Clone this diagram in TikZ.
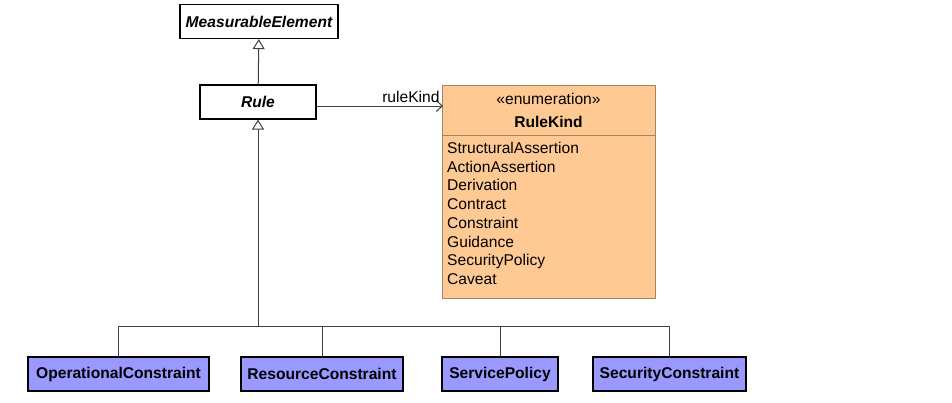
\documentclass[tikz,border=0pt]{standalone}
\usepackage{fontspec}
\setmainfont{Liberation Sans}
\usetikzlibrary{arrows.meta,positioning}

\definecolor{leafblue}{HTML}{9999FF}
\definecolor{enumfill}{HTML}{FFC994}
\definecolor{enumedge}{HTML}{A08666}
\definecolor{linegray}{HTML}{404040}

\begin{document}
\begin{tikzpicture}[
    x=1pt, y=-1pt,
    % Text size of the whole diagram
    font=\fontsize{15.6}{18.7}\selectfont,
    % Abstract classes (bold italic, white)
    classbox/.style={draw=black, line width=1.2pt, fill=white, minimum height=34pt,
        inner sep=0pt, font=\fontsize{15.6}{18.7}\selectfont\bfseries\itshape},
    % Concrete subclasses (blue)
    leafbox/.style={draw=black, line width=1.2pt, fill=leafblue, minimum height=34pt,
        inner sep=0pt, font=\fontsize{15.6}{18.7}\selectfont\bfseries},
    enumbox/.style={draw=enumedge, line width=1.2pt, fill=enumfill, inner sep=0pt},
    gen/.style={draw=linegray, line width=1pt, -{Triangle[length=10pt,width=12pt,fill=white]}},
    assoc/.style={draw=linegray, line width=1pt, -{Straight Barb[length=6pt,width=11pt]}},
    plain/.style={draw=linegray, line width=1pt}
]

% Canvas
\useasboundingbox (0,0) rectangle (952,402);

% Top of the hierarchy
\node[classbox, minimum width=158pt] (measurable) at (259,21.5) {MeasurableElement};
\node[classbox, minimum width=116pt] (rule) at (258,102) {Rule};
\draw[gen] (rule) -- (measurable);

% Enumeration
\node[enumbox, minimum width=213pt, minimum height=213pt, anchor=north west] (enum) at (442,85) {};
\node[anchor=base, inner sep=0pt] (stereo) at (548.5,104.5) {«enumeration»};
\node[anchor=base, inner sep=0pt, font=\fontsize{15.6}{18.7}\selectfont\bfseries] (kindname) at (548.5,127.5) {RuleKind};
\draw[draw=enumedge, line width=1pt] (enum.west |- 0,135) -- (enum.east |- 0,135);
\foreach \lit [count=\i from 0] in {StructuralAssertion, ActionAssertion, Derivation,
    Contract, Constraint, Guidance, SecurityPolicy, Caveat} {
    \node[anchor=base west, inner sep=0pt] (lit\i) at (447,153.5+18.7*\i) {\lit};
}

% Association Rule -> RuleKind
\coordinate (rkend) at (443,106);
\draw[assoc] (rule.east |- rkend) -- (rkend)
    node[above left, inner sep=3pt] (rklabel) {ruleKind};

% Subclasses
\node[leafbox, minimum width=181pt] (operational) at (118.5,374) {OperationalConstraint};
\node[leafbox, minimum width=162pt] (resource) at (322,374) {ResourceConstraint};
\node[leafbox, minimum width=116pt] (service) at (500,374) {ServicePolicy};
\node[leafbox, minimum width=153pt] (security) at (669.5,374) {SecurityConstraint};

% Generalization tree
\coordinate (bus) at (258,326);
\foreach \sub in {operational, resource, service, security} {
    \draw[plain] (\sub.north) |- (bus);
}
\draw[gen] (bus) -- (rule);

\end{tikzpicture}
\end{document}
